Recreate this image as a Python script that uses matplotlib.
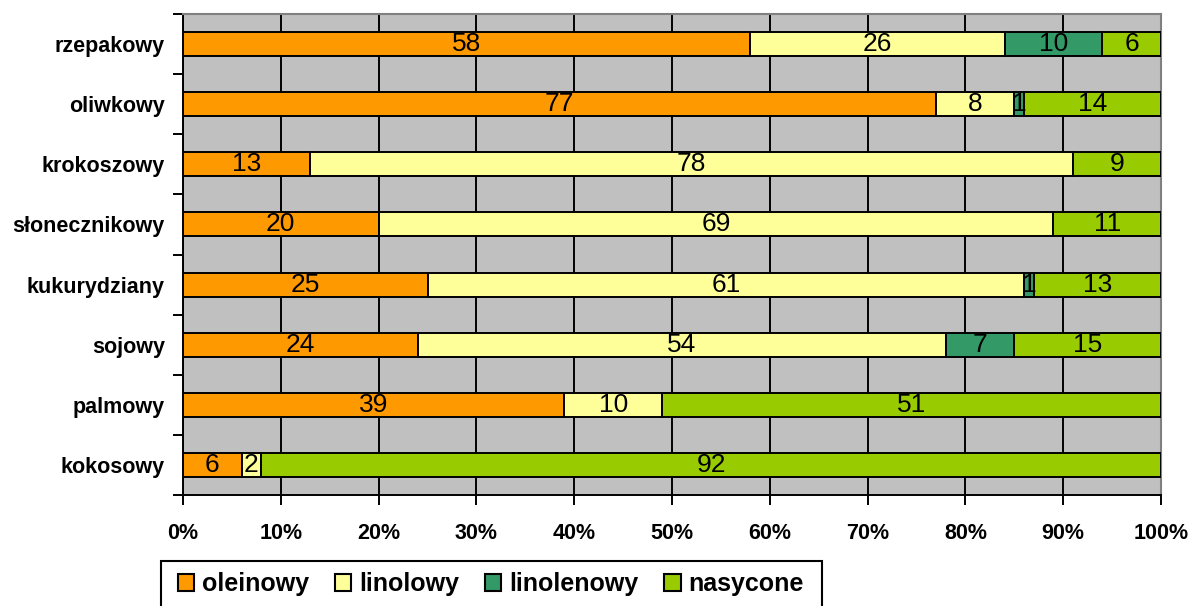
import matplotlib
matplotlib.use('Agg')
import matplotlib.pyplot as plt
from matplotlib.patches import Patch, Rectangle
from matplotlib.ticker import FixedLocator, PercentFormatter

plt.rcParams['font.family'] = ['Liberation Sans', 'DejaVu Sans']

# Fatty acid composition of oils (percent)
oils = ['rzepakowy', 'oliwkowy', 'krokoszowy', 'słonecznikowy',
        'kukurydziany', 'sojowy', 'palmowy', 'kokosowy']
oleinowy = [58, 77, 13, 20, 25, 24, 39, 6]
linolowy = [26, 8, 78, 69, 61, 54, 10, 2]
linolenowy = [10, 1, 0, 0, 1, 7, 0, 0]
nasycone = [6, 14, 9, 11, 13, 15, 51, 92]

series = [('oleinowy', oleinowy, '#FF9900'),
          ('linolowy', linolowy, '#FFFF99'),
          ('linolenowy', linolenowy, '#339966'),
          ('nasycone', nasycone, '#99CC00')]

W, H = 1192, 606
fig = plt.figure(figsize=(W / 100, H / 100), dpi=100)
ax = fig.add_axes([183 / W, (H - 495) / H, (1161 - 183) / W, (495 - 14) / H])
ax.set_facecolor('#C0C0C0')

y = list(range(len(oils)))
total = [sum(r) for r in zip(oleinowy, linolowy, linolenowy, nasycone)]
left = [0] * len(oils)
for name, vals, color in series:
    frac = [v / t for v, t in zip(vals, total)]
    ax.barh(y, frac, left=left, height=0.4, color=color,
            edgecolor='black', linewidth=1.4, zorder=3)
    for yi, l, f, v in zip(y, left, frac, vals):
        if v > 0:
            ax.text(l + f / 2, yi, str(v), ha='center', va='center',
                    fontsize=19, zorder=4)
    left = [l + f for l, f in zip(left, frac)]

ax.set_xlim(0, 1)
ax.set_ylim(len(oils) - 0.5, -0.5)
ax.xaxis.set_major_locator(FixedLocator([i / 10 for i in range(11)]))
ax.xaxis.set_major_formatter(PercentFormatter(1.0, decimals=0))
ax.grid(axis='x', color='black', linewidth=1.4, zorder=1)

ax.set_yticks(y)
ax.set_yticklabels(oils)
ax.yaxis.set_minor_locator(FixedLocator([i - 0.5 for i in range(len(oils) + 1)]))
ax.tick_params(axis='y', which='major', length=0, pad=13)
ax.tick_params(axis='y', which='minor', length=7, width=1.4, direction='out')
ax.tick_params(axis='x', length=7, width=1.4, direction='out', pad=13)
for lab in ax.get_xticklabels() + ax.get_yticklabels():
    lab.set_fontweight('bold')
    lab.set_fontsize(15.5)

for side in ('top', 'right'):
    ax.spines[side].set_color('#808080')
    ax.spines[side].set_linewidth(1.5)
for side in ('left', 'bottom'):
    ax.spines[side].set_color('black')
    ax.spines[side].set_linewidth(1.4)

# legend box, running off the bottom edge
fig.patches.append(Rectangle((161 / W, (H - 650) / H), (822 - 161) / W, (650 - 561) / H,
                             transform=fig.transFigure, facecolor='white',
                             edgecolor='black', linewidth=1.5))

handles = [Patch(facecolor=c, edgecolor='black', linewidth=1.5, label=n)
           for n, _, c in series]
fig.legend(handles=handles, loc='upper left', ncol=4,
           bbox_to_anchor=(178 / W, (H - 572) / H),
           prop={'weight': 'bold', 'size': 18},
           handlelength=0.65, handleheight=0.65, handletextpad=0.3,
           columnspacing=1.05, borderpad=0, frameon=False, borderaxespad=0)

fig.savefig('out.png', dpi=100)
